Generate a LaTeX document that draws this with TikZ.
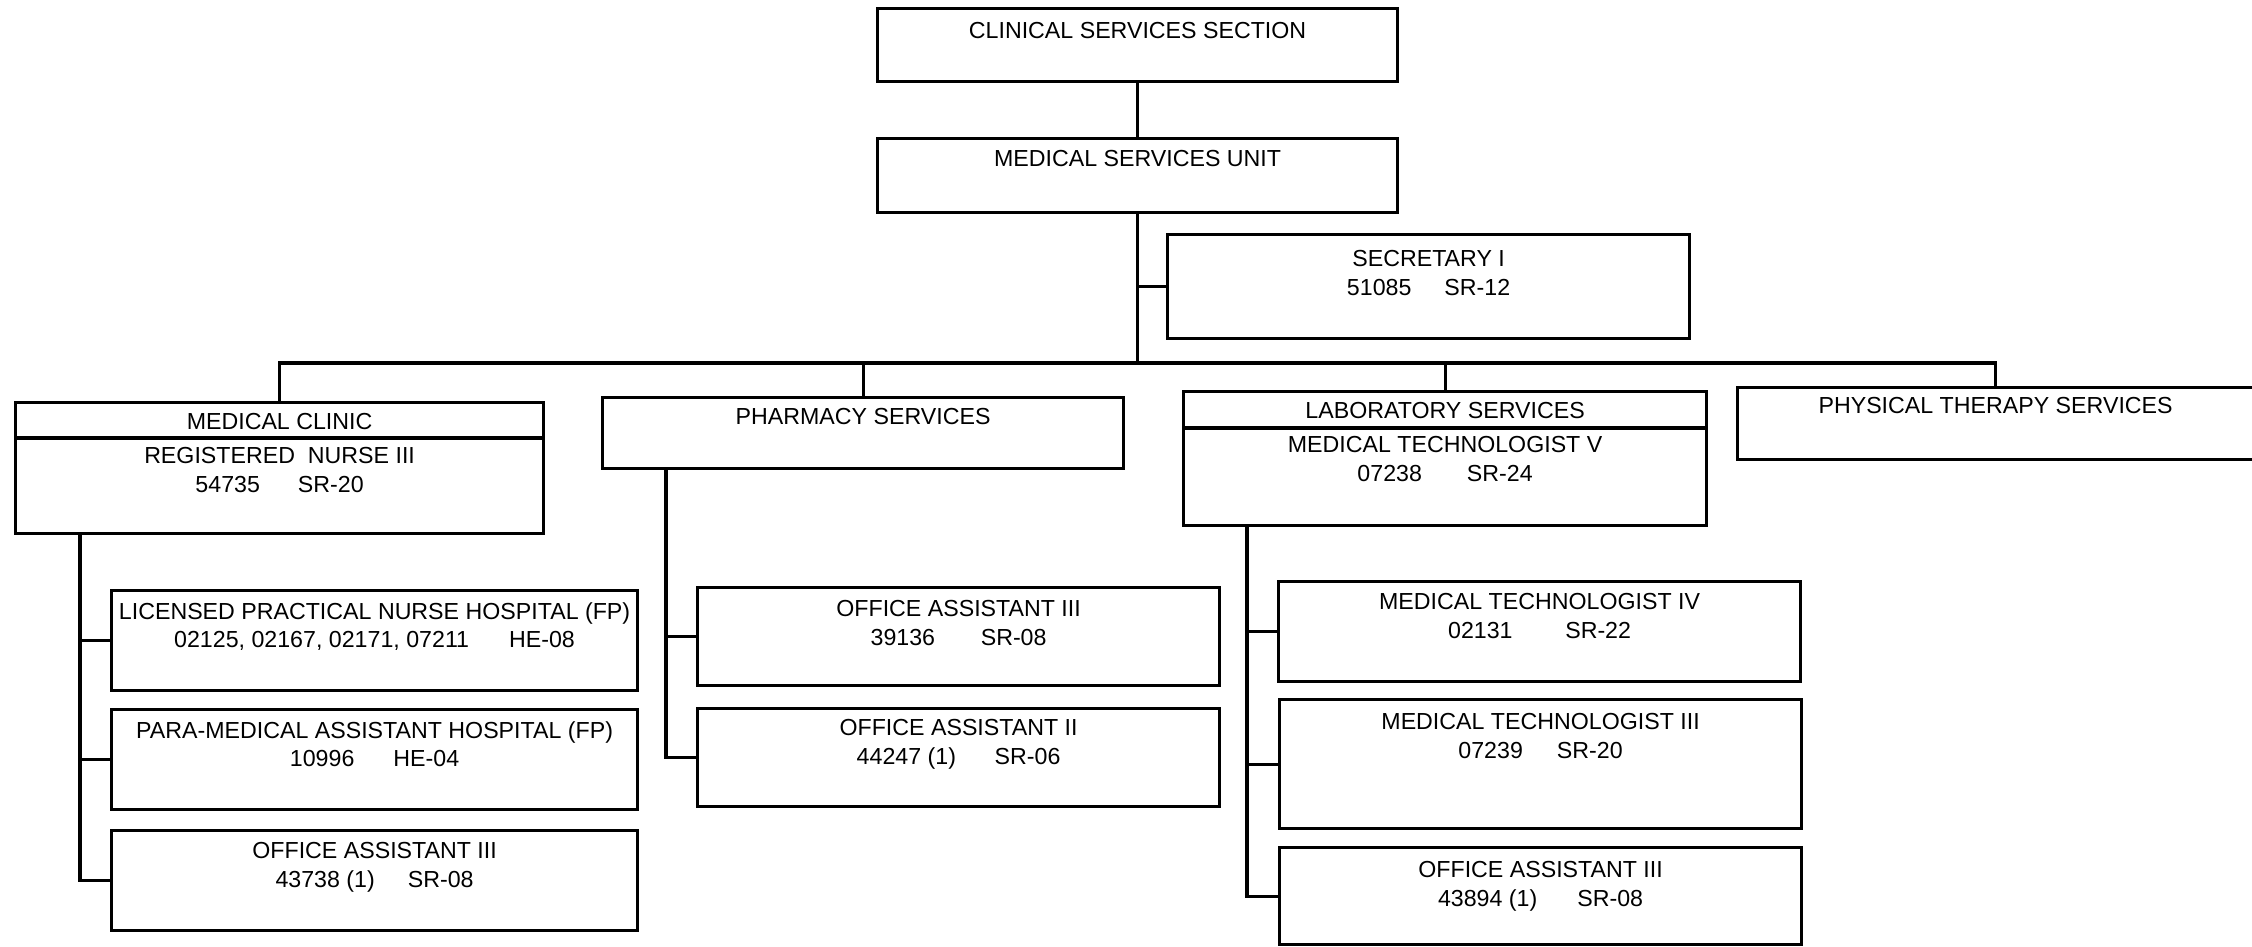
\documentclass[tikz,border=0pt]{standalone}
\usepackage{fontspec}
\setmainfont{Liberation Sans}
\usetikzlibrary{positioning}

\begin{document}
\begin{tikzpicture}[box/.style={draw=black,line width=0.9pt,anchor=north west,inner sep=0pt},
  txt/.style={align=center,inner sep=0pt,font=\fontsize{6.6pt}{8.1pt}\selectfont},
  link/.style={line width=0.9pt}]
\useasboundingbox[fill=white] (0,0) rectangle (22.52,-9.46);
% top of the chart
\node[box,minimum width=5.20cm,minimum height=0.73cm] (cs_sec) at (8.76,-0.07) {};
\node[txt,below=0.15cm of cs_sec.north] (cs_sec_t) {CLINICAL SERVICES SECTION};
\node[box,minimum width=5.20cm,minimum height=0.74cm] (ms_unit) at (8.76,-1.37) {};
\node[txt,below=0.13cm of ms_unit.north] (ms_unit_t) {MEDICAL SERVICES UNIT};
\node[box,minimum width=5.22cm,minimum height=1.04cm] (sec_one) at (11.66,-2.33) {};
\node[txt,below=0.17cm of sec_one.north] (sec_one_t) {SECRETARY I\\51085\hspace{9.4pt}SR-12};
\coordinate (bus) at (0,-3.63);
% services row
\node[box,minimum width=5.28cm,minimum height=1.31cm] (med_cl) at (0.14,-4.01) {};
\node[txt,below=0.12cm of med_cl.north] (med_cl_h) {MEDICAL CLINIC};
\node[txt,below=0.46cm of med_cl.north] (med_cl_t) {REGISTERED\ \ NURSE III\\54735\hspace{10.8pt}SR-20};
\node[box,minimum width=5.21cm,minimum height=0.71cm] (pharm) at (6.01,-3.96) {};
\node[txt,below=0.12cm of pharm.north] (pharm_t) {PHARMACY SERVICES};
\node[box,minimum width=5.23cm,minimum height=1.34cm] (lab) at (11.82,-3.90) {};
\node[txt,below=0.12cm of lab.north] (lab_h) {LABORATORY SERVICES};
\node[txt,below=0.46cm of lab.north] (lab_t) {MEDICAL TECHNOLOGIST V\\07238\hspace{12.8pt}SR-24};
\node[box,minimum width=5.16cm,minimum height=0.72cm] (pt) at (17.36,-3.86) {};
\node[txt,below=0.11cm of pt.north] (pt_t) {PHYSICAL THERAPY SERVICES};
% medical clinic staff
\coordinate (mc_trunk) at (0.80,0);
\node[box,minimum width=5.26cm,minimum height=1.00cm] (lpn) at (1.10,-5.89) {};
\node[txt,below=0.13cm of lpn.north] (lpn_t) {LICENSED PRACTICAL NURSE HOSPITAL (FP)\\02125, 02167, 02171, 07211\hspace{11.4pt}HE-08};
\node[box,minimum width=5.26cm,minimum height=1.00cm] (pma) at (1.10,-7.08) {};
\node[txt,below=0.13cm of pma.north] (pma_t) {PARA-MEDICAL ASSISTANT HOSPITAL (FP)\\10996\hspace{11.1pt}HE-04};
\node[box,minimum width=5.26cm,minimum height=1.00cm] (oa_mc) at (1.10,-8.29) {};
\node[txt,below=0.13cm of oa_mc.north] (oa_mc_t) {OFFICE ASSISTANT III\\43738 (1)\hspace{9.4pt}SR-08};
% pharmacy staff
\coordinate (ph_trunk) at (6.66,0);
\node[box,minimum width=5.22cm,minimum height=0.98cm] (oa_ph3) at (6.96,-5.86) {};
\node[txt,below=0.14cm of oa_ph3.north] (oa_ph3_t) {OFFICE ASSISTANT III\\39136\hspace{13pt}SR-08};
\node[box,minimum width=5.22cm,minimum height=0.98cm] (oa_ph2) at (6.96,-7.07) {};
\node[txt,below=0.12cm of oa_ph2.north] (oa_ph2_t) {OFFICE ASSISTANT II\\44247 (1)\hspace{11pt}SR-06};
% laboratory staff
\coordinate (lab_trunk) at (12.47,0);
\node[box,minimum width=5.22cm,minimum height=1.00cm] (mt4) at (12.77,-5.80) {};
\node[txt,below=0.13cm of mt4.north] (mt4_t) {MEDICAL TECHNOLOGIST IV\\02131\hspace{15pt}SR-22};
\node[box,minimum width=5.22cm,minimum height=1.29cm] (mt3) at (12.78,-6.98) {};
\node[txt,below=0.15cm of mt3.north] (mt3_t) {MEDICAL TECHNOLOGIST III\\07239\hspace{9.7pt}SR-20};
\node[box,minimum width=5.22cm,minimum height=0.97cm] (oa_lab) at (12.78,-8.46) {};
\node[txt,below=0.15cm of oa_lab.north] (oa_lab_t) {OFFICE ASSISTANT III\\43894 (1)\hspace{11.4pt}SR-08};
% dividers
\draw[link] ([yshift=-0.37cm]med_cl.north west) -- ([yshift=-0.37cm]med_cl.north east);
\draw[link] ([yshift=-0.38cm]lab.north west) -- ([yshift=-0.38cm]lab.north east);
% connectors
\draw[link] (cs_sec.south) -- (ms_unit.north);
\draw[link] (ms_unit.south) -- (ms_unit.south |- bus);
\draw[link] (sec_one.west) -- (sec_one.west -| ms_unit.south);
\draw[link] (med_cl.north) -- (med_cl.north |- bus) -- (pt.north |- bus) -- (pt.north);
\draw[link] (pharm.north) -- (pharm.north |- bus);
\draw[link] (lab.north) -- (lab.north |- bus);
\draw[link] (med_cl.south -| mc_trunk) |- (oa_mc.west);
\draw[link] (lpn.west) -- (lpn.west -| mc_trunk);
\draw[link] (pma.west) -- (pma.west -| mc_trunk);
\draw[link] (pharm.south -| ph_trunk) |- (oa_ph2.west);
\draw[link] (oa_ph3.west) -- (oa_ph3.west -| ph_trunk);
\draw[link] (lab.south -| lab_trunk) |- (oa_lab.west);
\draw[link] (mt4.west) -- (mt4.west -| lab_trunk);
\draw[link] (mt3.west) -- (mt3.west -| lab_trunk);
\end{tikzpicture}
\end{document}
